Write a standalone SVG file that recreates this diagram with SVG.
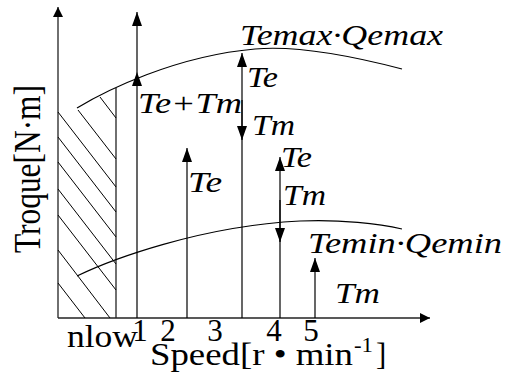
<svg xmlns="http://www.w3.org/2000/svg" width="510" height="378" viewBox="0 0 510 378">
<style>
.ln{stroke:#000;stroke-width:1.2;fill:none}
.ax{stroke:#222;stroke-width:1.3;fill:none}
.h{stroke:#000;stroke-width:1;fill:none}
.t{font-family:"Liberation Serif","Times New Roman",serif;fill:#000}
.i{font-style:italic;font-size:30px}
.r{font-size:31px}
</style>
<defs>
<marker id="a" markerUnits="userSpaceOnUse" viewBox="0 0 14 10" markerWidth="14" markerHeight="10" refX="14" refY="5" orient="auto"><path d="M0,0L14,5L0,10z" fill="#000"/></marker>
<marker id="x" markerUnits="userSpaceOnUse" viewBox="0 0 10 10" markerWidth="10" markerHeight="10" refX="10" refY="5" orient="auto"><path d="M0,0L10,5L0,10z" fill="#000"/></marker>
</defs>
<g id="axes">
<line class="ax" x1="58" y1="318" x2="58" y2="7" marker-end="url(#x)"/>
<line class="ax" x1="58" y1="318" x2="430" y2="318" marker-end="url(#x)"/>
</g>
<g id="hatch">
<line class="ax" x1="116" y1="88" x2="116" y2="318"/>
<line class="h" x1="100" y1="97" x2="116" y2="118"/>
<line class="h" x1="78" y1="110" x2="116" y2="159"/>
<line class="h" x1="58" y1="112" x2="116" y2="187"/>
<line class="h" x1="58" y1="137" x2="116" y2="212"/>
<line class="h" x1="58" y1="162" x2="116" y2="237"/>
<line class="h" x1="58" y1="189" x2="116" y2="264"/>
<line class="h" x1="58" y1="215" x2="116" y2="290"/>
<line class="h" x1="58" y1="250" x2="110" y2="318"/>
<line class="h" x1="58" y1="283" x2="85" y2="318"/>
</g>
<g id="curves">
<path class="ln" d="M77,108C105,91 175,56 255,49C300,45 360,58 402,69"/>
<path class="ln" d="M77,276C110,260 200,226 300,221C340,219 380,224 402,229"/>
</g>
<g id="connectors">
<line class="ln" x1="137" y1="318" x2="137" y2="72" marker-end="url(#a)"/>
<line class="ln" x1="137" y1="72" x2="137" y2="12" marker-end="url(#a)"/>
<line class="ln" x1="187" y1="318" x2="187" y2="148" marker-end="url(#a)"/>
<line class="ln" x1="242" y1="318" x2="242" y2="53" marker-end="url(#a)"/>
<line class="ln" x1="242" y1="100" x2="242" y2="140" marker-end="url(#a)"/>
<line class="ln" x1="280" y1="318" x2="280" y2="157" marker-end="url(#a)"/>
<line class="ln" x1="280" y1="200" x2="280" y2="242" marker-end="url(#a)"/>
<line class="ln" x1="315" y1="318" x2="315" y2="258" marker-end="url(#a)"/>
</g>
<g id="labels">
<text class="t i" x="240" y="45" textLength="203" lengthAdjust="spacingAndGlyphs">Temax·Qemax</text>
<text class="t i" x="138" y="113" textLength="104" lengthAdjust="spacingAndGlyphs">Te+Tm</text>
<text class="t i" x="247" y="87" textLength="31" lengthAdjust="spacingAndGlyphs">Te</text>
<text class="t i" x="252" y="135" textLength="43" lengthAdjust="spacingAndGlyphs">Tm</text>
<text class="t i" x="188" y="192" textLength="34" lengthAdjust="spacingAndGlyphs">Te</text>
<text class="t i" x="281" y="167" textLength="31" lengthAdjust="spacingAndGlyphs">Te</text>
<text class="t i" x="283" y="205" textLength="43" lengthAdjust="spacingAndGlyphs">Tm</text>
<text class="t i" x="308" y="253" textLength="194" lengthAdjust="spacingAndGlyphs">Temin·Qemin</text>
<text class="t i" x="335" y="303" textLength="45" lengthAdjust="spacingAndGlyphs">Tm</text>
<text class="t" font-size="37" transform="translate(40,253) rotate(-90)" textLength="168" lengthAdjust="spacingAndGlyphs">Troque[N·m]</text>
<text class="t r" x="67" y="347" textLength="71" lengthAdjust="spacingAndGlyphs">nlow</text>
<text class="t r" text-anchor="middle" x="140" y="341">1</text>
<text class="t r" text-anchor="middle" x="168" y="341">2</text>
<text class="t r" text-anchor="middle" x="215" y="341">3</text>
<text class="t r" text-anchor="middle" x="274" y="341">4</text>
<text class="t r" text-anchor="middle" x="311" y="341">5</text>
<text class="t r" x="150" y="365" textLength="203" lengthAdjust="spacingAndGlyphs">Speed[r • min</text>
<text class="t" font-size="20" x="354" y="352" textLength="19" lengthAdjust="spacingAndGlyphs">-1</text>
<text class="t r" x="376" y="365">]</text>
</g>
</svg>
